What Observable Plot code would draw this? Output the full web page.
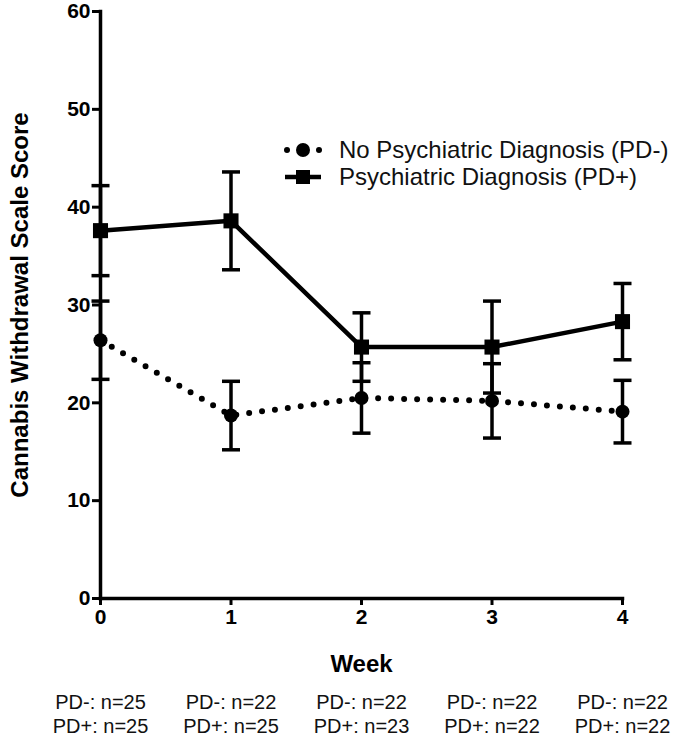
<!DOCTYPE html>
<html>
<head>
<meta charset="utf-8">
<script src="https://cdn.jsdelivr.net/npm/d3@7"></script>
<script src="https://cdn.jsdelivr.net/npm/@observablehq/plot@0.6"></script>
<style>
  html, body { margin: 0; padding: 0; background: #fff; }
  #wrap { position: relative; width: 682px; height: 740px; font-family: "Liberation Sans", Arial, sans-serif; }
  #legend { position: absolute; left: 283px; top: 136px; font-size: 24px; color: #111; }
  .lrow { display: flex; align-items: center; height: 27px; white-space: nowrap; }
  .lrow svg { margin-right: 16px; }
</style>
</head>
<body>
<div id="wrap">
  <div id="chart"></div>
  <div id="legend"></div>
</div>
<script>
// ---- data ----
const weeks = [0, 1, 2, 3, 4];
const pdMinusMean = [26.4, 18.7, 20.5, 20.2, 19.1];
const pdMinusSem  = [4.0, 3.5, 3.6, 3.8, 3.2];
const pdPlusMean  = [37.6, 38.6, 25.7, 25.7, 28.3];
const pdPlusSem   = [4.6, 5.0, 3.5, 4.7, 3.9];
const nMinus = [25, 22, 22, 22, 22];
const nPlus  = [25, 25, 23, 22, 22];
const seriesNames = ["No Psychiatric Diagnosis (PD-)", "Psychiatric Diagnosis (PD+)"];
const yTicks = [0, 10, 20, 30, 40, 50, 60];
const xLabel = "Week";
const yLabel = "Cannabis Withdrawal Scale Score";

const minus = weeks.map((w, i) => ({week: w, mean: pdMinusMean[i], sem: pdMinusSem[i]}));
const plus  = weeks.map((w, i) => ({week: w, mean: pdPlusMean[i], sem: pdPlusSem[i]}));
const counts = weeks.map((w, i) => ({week: w, label: `PD-: n=${nMinus[i]}\nPD+: n=${nPlus[i]}`}));

// horizontal cap symbol for error bars
const capSymbol = {
  draw(ctx, size) {
    const r = Math.sqrt(size / Math.PI);
    ctx.moveTo(-r, 0);
    ctx.lineTo(r, 0);
  }
};

const errMarks = (data) => [
  Plot.ruleX(data, {x: "week", y1: d => d.mean - d.sem, y2: d => d.mean + d.sem, stroke: "#000", strokeWidth: 3.5}),
  Plot.dot(data, {x: "week", y: d => d.mean + d.sem, symbol: capSymbol, r: 9, stroke: "#000", strokeWidth: 3.5, fill: "none"}),
  Plot.dot(data, {x: "week", y: d => d.mean - d.sem, symbol: capSymbol, r: 9, stroke: "#000", strokeWidth: 3.5, fill: "none"})
];

const chart = Plot.plot({
  width: 682,
  height: 740,
  marginLeft: 100,
  marginRight: 60,
  marginTop: 11,
  marginBottom: 142,
  style: {fontFamily: "Liberation Sans, Arial, sans-serif", color: "#000", background: "#fff"},
  x: {domain: [0, 4]},
  y: {domain: [0, 60]},
  marks: [
    Plot.axisY({ticks: yTicks, tickSize: 8, tickPadding: 2, tickFormat: d => String(d), label: null,
      fontSize: 21, fontWeight: "bold", strokeWidth: 3}),
    Plot.axisY({ticks: [], label: yLabel, labelAnchor: "center", labelArrow: "none", labelOffset: 90,
      fontSize: 24, fontWeight: "bold"}),
    Plot.axisX({ticks: weeks, tickSize: 7, tickPadding: 4, tickFormat: d => String(d), label: null,
      fontSize: 21, fontWeight: "bold", strokeWidth: 3}),
    Plot.axisX({ticks: [], label: xLabel, labelAnchor: "center", labelArrow: "none", labelOffset: 73,
      fontSize: 24, fontWeight: "bold"}),
    Plot.frame({anchor: "left", stroke: "#000", strokeWidth: 3.5}),
    Plot.frame({anchor: "bottom", stroke: "#000", strokeWidth: 3.5}),
    ...errMarks(plus),
    ...errMarks(minus),
    Plot.line(plus, {x: "week", y: "mean", stroke: "#000", strokeWidth: 4.5}),
    Plot.line(minus, {x: "week", y: "mean", stroke: "#000", strokeWidth: 6, strokeDasharray: "0 13", strokeLinecap: "round"}),
    Plot.dot(plus, {x: "week", y: "mean", symbol: "square", r: 8.5, fill: "#000"}),
    Plot.dot(minus, {x: "week", y: "mean", symbol: "circle", r: 7, fill: "#000"}),
    Plot.text(counts, {x: "week", text: "label", frameAnchor: "bottom", lineAnchor: "top", dy: 93,
      fontSize: 20, lineHeight: 1.2, fill: "#111"})
  ]
});
document.getElementById("chart").appendChild(chart);

// legend
const legend = d3.select("#legend");
const r1 = legend.append("div").attr("class", "lrow");
const s1 = r1.append("svg").attr("width", 40).attr("height", 20);
s1.append("circle").attr("cx", 4).attr("cy", 10).attr("r", 3).attr("fill", "#000");
s1.append("circle").attr("cx", 20).attr("cy", 10).attr("r", 7).attr("fill", "#000");
s1.append("circle").attr("cx", 36).attr("cy", 10).attr("r", 3).attr("fill", "#000");
r1.append("span").text(seriesNames[0]);
const r2 = legend.append("div").attr("class", "lrow");
const s2 = r2.append("svg").attr("width", 40).attr("height", 20);
s2.append("line").attr("x1", 2).attr("x2", 38).attr("y1", 10).attr("y2", 10).attr("stroke", "#000").attr("stroke-width", 4.5);
s2.append("rect").attr("x", 13).attr("y", 3).attr("width", 14).attr("height", 14).attr("fill", "#000");
r2.append("span").text(seriesNames[1]);
</script>
</body>
</html>
